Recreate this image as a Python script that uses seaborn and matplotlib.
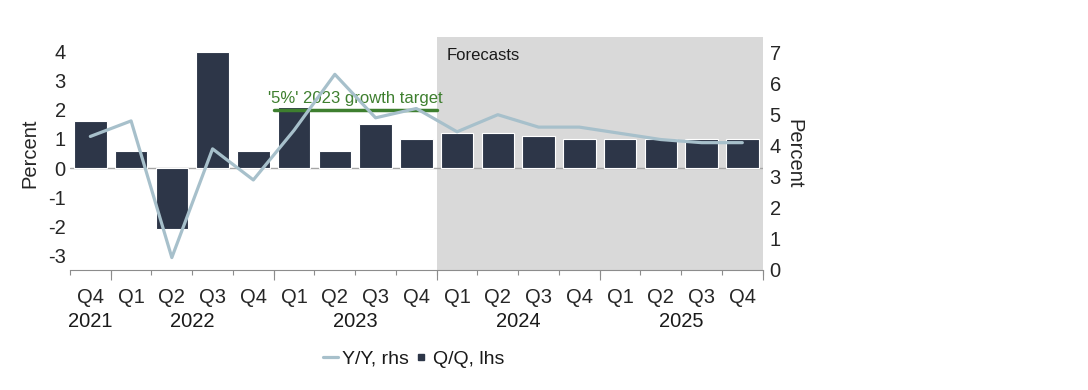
import numpy as np
import matplotlib
matplotlib.use('Agg')
from matplotlib import pyplot as plt
from matplotlib.lines import Line2D
import seaborn as sns

quarters = ["Q4", "Q1", "Q2", "Q3", "Q4", "Q1", "Q2", "Q3", "Q4",
            "Q1", "Q2", "Q3", "Q4", "Q1", "Q2", "Q3", "Q4"]
years = [2021, 2022, 2022, 2022, 2022, 2023, 2023, 2023, 2023,
         2024, 2024, 2024, 2024, 2025, 2025, 2025, 2025]
qq = [1.6, 0.6, -2.1, 4.0, 0.6, 2.1, 0.6, 1.5, 1.0,
      1.2, 1.2, 1.1, 1.0, 1.0, 1.0, 1.0, 1.0]
yy = [4.3, 4.8, 0.4, 3.9, 2.9, 4.5, 6.3, 4.9, 5.2,
      4.45, 5.0, 4.6, 4.6, 4.4, 4.2, 4.1, 4.1]
forecast_start = 2024
target_year = 2023
target_lhs = 2.0

bar_col = "#2d3648"
line_col = "#a7c0cb"
green = "#3e7f2f"
grey = "#d9d9d9"
tick_col = "#8c8c8c"

sns.set_style("white")
plt.rcParams['font.family'] = ['Liberation Sans', 'DejaVu Sans']
plt.rcParams['axes.unicode_minus'] = False
plt.rcParams['text.color'] = '#1a1a1a'

fig = plt.figure(figsize=(10.88, 3.90), dpi=100)
ax = fig.add_axes([0.0643, 0.3077, 0.6367, 0.5973])
ax2 = ax.twinx()

periods = [f"{q} {y}" for q, y in zip(quarters, years)]
n = len(periods)
pos = np.arange(n)
yrs = np.array(years)

# forecast shading
f0 = pos[yrs >= forecast_start][0] - 0.5
ax.axvspan(f0, n - 0.5, color=grey, zorder=0, lw=0)
ax.text(f0 + 0.25, 3.85, "Forecasts", fontsize=12, va='center', ha='left')

sns.barplot(x=periods, y=qq, color=bar_col, width=0.8, edgecolor='white',
            linewidth=0.8, saturation=1, ax=ax, zorder=2)
ax.axhline(0, color='#a6a6a6', lw=1, zorder=1)

# growth target line
t = pos[yrs == target_year]
ax.plot([t[0] - 0.5, t[-1] + 0.5], [target_lhs, target_lhs], color=green, lw=2.5, zorder=3)
ax.text(t.mean(), target_lhs + 0.12, "'5%' 2023 growth target", color=green,
        fontsize=12, ha='center', va='bottom', zorder=3)

sns.lineplot(x=pos, y=yy, color=line_col, lw=2.3, ax=ax2)

ax.set_ylim(-3.5, 4.5)
ax2.set_ylim(0, 7.5)
ax.set_xlim(-0.5, n - 0.5)
ax.set_yticks(range(-3, 5))
ax2.set_yticks(range(0, 8))

# x axis: quarter labels and boundary ticks
ax.set_xticks(pos)
ax.set_xticklabels(quarters, fontsize=14.5)
ax.tick_params(axis='x', which='major', length=0, pad=13)
ax.set_xticks(np.arange(-0.5, n), minor=True)
ax.tick_params(axis='x', which='minor', length=3.5, color=tick_col, width=0.8, bottom=True)
ax.tick_params(axis='y', labelsize=14.5, length=0, pad=3)
ax2.tick_params(axis='y', labelsize=14.5, length=0, pad=5)

# longer ticks at year boundaries
sec = ax.secondary_xaxis('bottom')
bounds = [p - 0.5 for p in pos[1:] if yrs[p] != yrs[p - 1]] + [n - 0.5]
sec.set_xticks(bounds)
sec.set_xticklabels([])
sec.tick_params(axis='x', length=7, color=tick_col, width=0.8)
sec.spines['bottom'].set_visible(False)

for yv in sorted(set(years)):
    ax.annotate(str(yv), xy=(pos[yrs == yv].mean(), 0), xycoords=('data', 'axes fraction'),
                xytext=(0, -30), textcoords='offset points', ha='center', va='top', fontsize=14.5)

for a in (ax, ax2):
    for s in ('top', 'left', 'right'):
        a.spines[s].set_visible(False)
    a.spines['bottom'].set_color(tick_col)
    a.spines['bottom'].set_linewidth(0.8)
ax2.spines['bottom'].set_visible(False)

ax.set_ylabel("Percent", fontsize=14.5, labelpad=6)
ax2.set_ylabel("Percent", fontsize=14.5, rotation=-90, labelpad=16)

handles = [Line2D([], [], color=line_col, lw=2.3),
           Line2D([], [], color=bar_col, marker='s', ls='none', markersize=5)]
fig.legend(handles, ["Y/Y, rhs", "Q/Q, lhs"], loc='center', bbox_to_anchor=(0.38, 0.08),
           ncol=2, frameon=False, fontsize=14, handlelength=0.8, handletextpad=0.2,
           columnspacing=0.2)

fig.savefig("out.png", dpi=100)
